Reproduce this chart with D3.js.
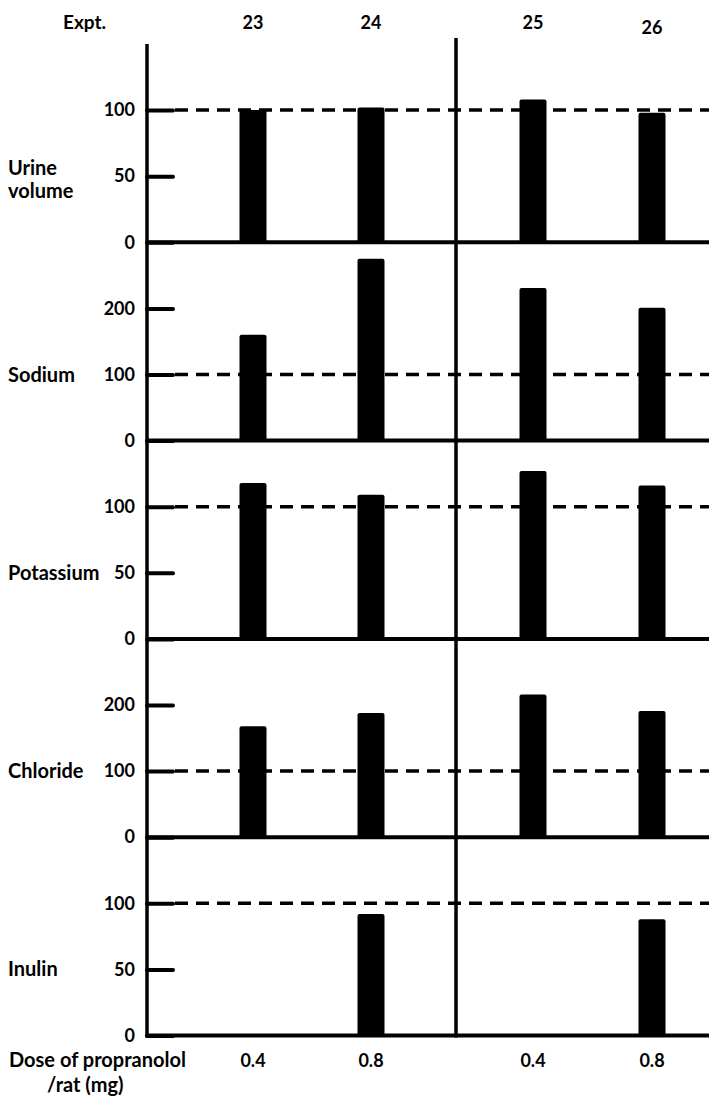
<!DOCTYPE html>
<html>
<head>
<meta charset="utf-8">
<script src="https://cdn.jsdelivr.net/npm/d3@7"></script>
<style>
  body { margin: 0; background: #fff; }
  svg text { font-family: Lato, "Open Sans", sans-serif; font-weight: 700; fill: #000; }
</style>
</head>
<body>
<svg id="chart" width="709" height="1098"></svg>
<script>
// experiments and doses (columns)
const expts = ["23", "24", "25", "26"];
const doses = ["0.4", "0.8", "0.4", "0.8"];

// rows, values are % of control
const rowLabels = [["Urine", "volume"], ["Sodium"], ["Potassium"], ["Chloride"], ["Inulin"]];
const urineVolume = [100, 102, 108, 98];
const sodium = [160, 275, 231, 201];
const potassium = [118, 109, 127, 116];
const chloride = [168, 188, 216, 191];
const inulin = [null, 92, null, 88];
const rowMax = [150, 300, 150, 300, 150];
const rowTicks = [[0, 50, 100], [0, 100, 200], [0, 50, 100], [0, 100, 200], [0, 50, 100]];
const controlLevel = 100;

const series = [urineVolume, sodium, potassium, chloride, inulin];

const W = 709;
const axisX = 147, dividerX = 456;
const top0 = 44, panelH = 198.3;
const barW = 27;
const wordSize = "20px", numSize = "18px";

const svg = d3.select("#chart");

// bar centres, two experiment groups either side of the divider
const x = d3.scaleOrdinal().domain(expts).range([253, 371, 533, 652]);

// header
svg.append("text").attr("x", 63).attr("y", 29).style("font-size", "19px").text("Expt.");
svg.selectAll(".expt").data(expts).join("text")
    .attr("class", "expt")
    .attr("x", d => x(d))
    .attr("y", (d, i) => i === 3 ? 34 : 29)
    .attr("text-anchor", "middle")
    .style("font-size", numSize)
    .text(d => d);

series.forEach(function (vals, r) {
    const base = top0 + (r + 1) * panelH;
    const y = d3.scaleLinear().domain([0, rowMax[r]]).range([base, base - panelH]);
    const g = svg.append("g");

    // ticks pointing into the plot
    const ax = g.append("g")
        .attr("transform", `translate(${axisX},0)`)
        .call(d3.axisLeft(y).tickValues(rowTicks[r]).tickSize(-26).tickPadding(12).tickFormat(d3.format("d")));
    ax.select(".domain").remove();
    ax.selectAll(".tick line").attr("stroke", "#000").attr("stroke-width", 4).attr("stroke-linecap", "round");
    ax.selectAll(".tick text").style("font-size", numSize).attr("fill", "#000");

    // control level
    g.append("line")
        .attr("x1", axisX + 28).attr("x2", W)
        .attr("y1", y(controlLevel)).attr("y2", y(controlLevel))
        .attr("stroke", "#000").attr("stroke-width", 3.5)
        .attr("stroke-dasharray", "13,8");

    // bars
    g.selectAll("rect").data(vals.map((v, i) => ({v, e: expts[i]})).filter(d => d.v != null))
        .join("rect")
        .attr("x", d => x(d.e) - barW / 2)
        .attr("width", barW)
        .attr("y", d => y(d.v))
        .attr("height", d => y(0) - y(d.v))
        .attr("rx", 2)
        .attr("fill", "#000");

    // baseline
    g.append("line")
        .attr("x1", axisX).attr("x2", W)
        .attr("y1", y(0)).attr("y2", y(0))
        .attr("stroke", "#000").attr("stroke-width", 4);

    // row label, level with the middle labelled tick
    const lab = rowLabels[r];
    const ly = y(rowTicks[r][1] === 100 ? 100 : 50);
    lab.forEach(function (t, k) {
        g.append("text")
            .attr("x", 8)
            .attr("y", ly + 7 + (k - (lab.length - 1) / 2) * 23 + (lab.length === 2 ? 3 : 0))
            .style("font-size", wordSize)
            .text(t);
    });
});

const bottom = top0 + 5 * panelH;

// left axis and divider
svg.append("line").attr("x1", axisX).attr("x2", axisX).attr("y1", top0).attr("y2", bottom + 2)
    .attr("stroke", "#000").attr("stroke-width", 3.5);
svg.append("line").attr("x1", dividerX).attr("x2", dividerX).attr("y1", 38).attr("y2", bottom + 2)
    .attr("stroke", "#000").attr("stroke-width", 3.5);

// dose labels
svg.append("text").attr("x", 9).attr("y", bottom + 31).style("font-size", wordSize).text("Dose of propranolol");
svg.append("text").attr("x", 47).attr("y", bottom + 56).style("font-size", wordSize).text("/rat (mg)");
svg.selectAll(".dose").data(doses).join("text")
    .attr("class", "dose")
    .attr("x", (d, i) => x(expts[i]))
    .attr("y", bottom + 31)
    .attr("text-anchor", "middle")
    .style("font-size", numSize)
    .text(d => d);
</script>
</body>
</html>
